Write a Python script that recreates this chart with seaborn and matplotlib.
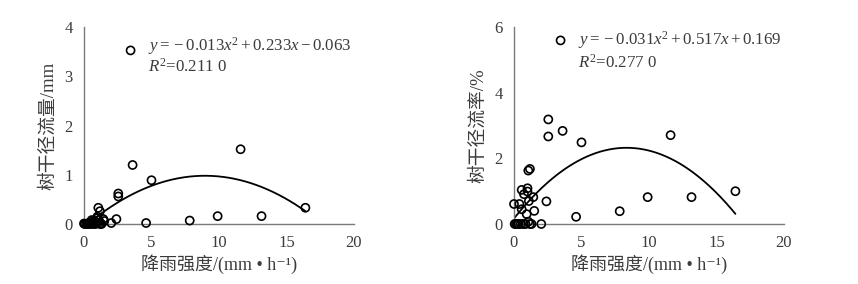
import numpy as np
import pandas as pd
import matplotlib
matplotlib.use("Agg")
import matplotlib.pyplot as plt
import seaborn as sns

# Rainfall events: intensity (mm/h), stemflow depth (mm), stemflow rate (%)
intensity = [3.45, 2.54, 2.54, 3.60, 5.00, 11.60, 16.40, 9.90, 13.15, 7.83,
             4.60, 2.40, 2.02, 1.06, 1.18, 1.50, 1.43, 1.00, 1.00, 0.57,
             0.74, 0.00, 0.40, 0.57, 0.94, 1.10, 1.06, 1.18, 1.30, 0.05,
             0.15, 0.25, 0.35, 0.50, 0.70, 0.85]
stemflow_mm = [3.53, 0.62, 0.56, 1.20, 0.89, 1.52, 0.33, 0.16, 0.16, 0.07,
               0.02, 0.10, 0.02, 0.33, 0.26, 0.06, 0.10, 0.15, 0.12, 0.08,
               0.07, 0.01, 0.03, 0.04, 0.03, 0.08, 0.02, 0.00, 0.00, 0.00,
               0.00, 0.00, 0.00, 0.00, 0.00, 0.00]
stemflow_pct = [5.60, 3.19, 2.67, 2.84, 2.49, 2.71, 1.00, 0.82, 0.82, 0.39,
                0.22, 0.69, 0.00, 1.63, 1.68, 0.40, 0.82, 1.09, 0.99, 1.04,
                0.91, 0.61, 0.61, 0.45, 0.30, 0.70, 0.07, 0.00, 0.00, 0.00,
                0.00, 0.00, 0.00, 0.00, 0.00, 0.00]

# Quadratic trend coefficients (a, b, c) and R^2 for each panel
coef_mm = (-0.013, 0.233, -0.063)
r2_mm = "0.211 0"
coef_pct = (-0.031, 0.517, 0.169)
r2_pct = "0.277 0"

x_ticks = [0, 5, 10, 15, 20]
ylabel_mm = "树干径流量/mm"
ylabel_pct = "树干径流率/%"
xlabel = "降雨强度/(mm • h⁻¹)"

sns.set_style("white")
plt.rcParams["font.family"] = ["Liberation Serif", "Noto Sans CJK SC", "DejaVu Serif"]
plt.rcParams["mathtext.fontset"] = "custom"
plt.rcParams["mathtext.rm"] = "Liberation Serif"
plt.rcParams["mathtext.it"] = "Liberation Serif:italic"
plt.rcParams["axes.unicode_minus"] = False

text_c = "#3c3c3c"
spine_c = "#7a7a7a"

df = pd.DataFrame({"intensity": intensity, "mm": stemflow_mm, "pct": stemflow_pct})

fig = plt.figure(figsize=(8.58, 2.84), dpi=100)
ax1 = fig.add_axes([84 / 858, 1 - 224 / 284, 270 / 858, 196.7 / 284])
ax2 = fig.add_axes([514 / 858, 1 - 224 / 284, 270 / 858, 196.7 / 284])


def term(v, first=False):
    s = f"{abs(v):.3f}"
    if v < 0:
        return "-" + s
    return s if first else "+" + s


def draw(ax, col, coef, r2, ymax, ylabel, ey, ry):
    xs = np.linspace(min(intensity), max(intensity), 200)
    a, b, c = coef
    fit = pd.DataFrame({"x": xs, "y": a * xs ** 2 + b * xs + c})
    sns.lineplot(data=fit, x="x", y="y", ax=ax, color="black", lw=1.3)
    sns.scatterplot(data=df, x="intensity", y=col, ax=ax, s=34,
                    facecolor="none", edgecolor="black", linewidth=1.2,
                    clip_on=False, zorder=3)
    ax.set_xlim(0, 20)
    ax.set_ylim(0, ymax)
    ax.set_xticks(x_ticks)
    ax.set_yticks(range(0, ymax + 1, 1 if ymax <= 4 else 2))
    for s in ["top", "right"]:
        ax.spines[s].set_visible(False)
    for s in ["left", "bottom"]:
        ax.spines[s].set_color(spine_c)
        ax.spines[s].set_linewidth(1.0)
    ax.tick_params(direction="in", length=4, width=1, color=spine_c,
                   labelsize=12, labelcolor=text_c, pad=8)
    ax.set_xlabel(xlabel, fontsize=13, color=text_c, labelpad=2)
    ax.set_ylabel(ylabel, fontsize=13.5, color=text_c, labelpad=5)
    eq = ("$y{=}" + term(a, True) + "x^{2}" + term(b) + "x" + term(c) + "$")
    ax.text(0.237, ey, eq, transform=ax.transAxes, fontsize=12.2,
            color=text_c, va="center", ha="left")
    ax.text(0.237, ry, "$R^{2}$=" + r2, transform=ax.transAxes, fontsize=12.2,
            color=text_c, va="center", ha="left")


draw(ax1, "mm", coef_mm, r2_mm, 4, ylabel_mm, 0.905, 0.80)
draw(ax2, "pct", coef_pct, r2_pct, 6, ylabel_pct, 0.935, 0.82)

fig.savefig("out.png", dpi=100)
